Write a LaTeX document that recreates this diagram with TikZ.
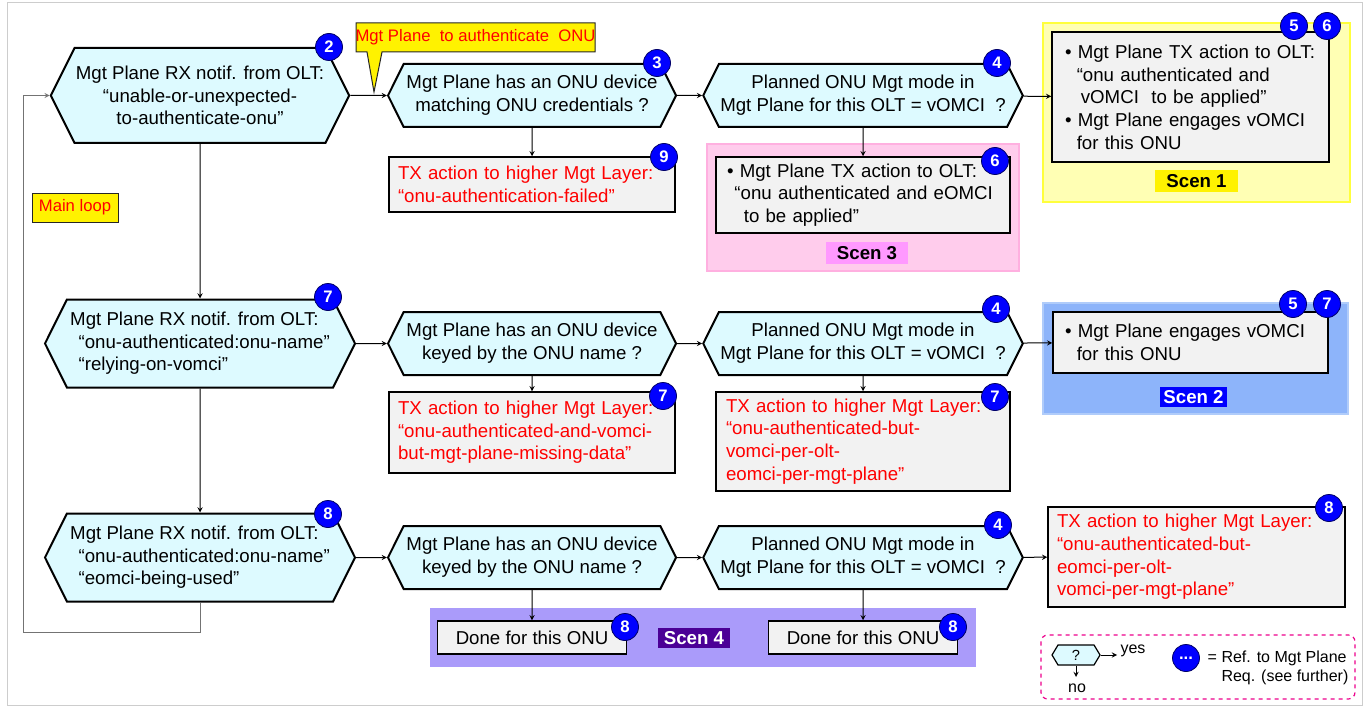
\documentclass[tikz,border=0pt]{standalone}
\usepackage{fontspec}
\setmainfont{Liberation Sans}
\usetikzlibrary{shapes.symbols}

\definecolor{hexfill}{RGB}{221,250,255}
\definecolor{boxfill}{RGB}{242,242,242}
\definecolor{txred}{RGB}{255,0,0}
\definecolor{refblue}{RGB}{0,0,255}
\definecolor{scenAbg}{RGB}{255,255,180}
\definecolor{scenAedge}{RGB}{255,255,60}
\definecolor{scenBbg}{RGB}{141,180,250}
\definecolor{scenBedge}{RGB}{176,204,250}
\definecolor{scenCbg}{RGB}{255,204,236}
\definecolor{scenCedge}{RGB}{255,176,224}
\definecolor{scenClbl}{RGB}{255,153,255}
\definecolor{scenDbg}{RGB}{170,155,250}
\definecolor{scenDlbl}{RGB}{75,0,150}
\definecolor{loopgray}{RGB}{115,115,115}
\definecolor{framegray}{RGB}{205,205,205}

\newcommand{\bulind}{\hspace*{0.63em}}

\begin{document}
\begin{tikzpicture}[x=0.75pt, y=-0.75pt, font=\fontsize{14}{17}\selectfont,
    hexa/.style={signal, signal to=east and west, signal pointer angle=127, draw, line width=1.5pt, fill=hexfill, inner sep=1pt, align=center},
    actbox/.style={draw, rectangle, line width=1.1pt, fill=boxfill, inner sep=0pt, align=left},
    refnum/.style={draw=black!60!refblue, circle, fill=refblue, line width=0.6pt, minimum size=20.25pt, inner sep=0pt, text=white, font=\bfseries\fontsize{12.5}{12.5}\selectfont},
    scenlbl/.style={rectangle, inner sep=0pt, font=\bfseries\fontsize{14}{14}\selectfont},
    flow/.style={->, >=stealth, line width=0.75pt},
    notefont/.style={font=\fontsize{12.5}{15}\selectfont}]
\useasboundingbox (0,0) rectangle (1366,706);
\draw[framegray, line width=0.75pt] (7.5,3) rectangle (1362,705.5);

% scenario areas
\filldraw[fill=scenAbg, draw=scenAedge, line width=1.1pt] (1043,23) rectangle (1350,202);
\filldraw[fill=scenCbg, draw=scenCedge, line width=1pt] (707,144) rectangle (1019,271);
\filldraw[fill=scenBbg, draw=scenBedge, line width=1pt] (1043,303) rectangle (1348,414);
\fill[scenDbg] (430,608) rectangle (976,667);

% row 1
\node[hexa, minimum width=222pt, minimum height=71.25pt] (A2) at (200,95.5) {Mgt Plane RX notif. from OLT:\\“unable-or-unexpected-\\to-authenticate-onu”};
\node[hexa, minimum width=216pt, minimum height=47.25pt] (B3) at (532,95.5) {Mgt Plane has an ONU device\\matching ONU credentials ?};
\node[hexa, minimum width=237pt, minimum height=47.25pt] (D4) at (863,95.5) {Planned ONU Mgt mode in\\Mgt Plane for this OLT = vOMCI\ \ ?};
\node[actbox, text=txred, minimum width=214.5pt, minimum height=41.25pt, text width=201pt] (C9) at (532,184.5) {TX action to higher Mgt Layer:\\“onu-authentication-failed”};
\node[actbox, minimum width=220.5pt, minimum height=57pt, text width=204pt] (E6) at (863,195) {\textbullet\ Mgt Plane TX action to OLT:\\\hspace*{0.4em}“onu authenticated and eOMCI\\\hspace*{0.9em}to be applied”};
\node[actbox, minimum width=207.75pt, minimum height=97.5pt, text width=188.25pt] (F56) at (1190.5,97) {\textbullet\ Mgt Plane TX action to OLT:\\\bulind“onu authenticated and\\\hspace*{0.85em}vOMCI\ \ to be applied”\\\textbullet\ Mgt Plane engages vOMCI\\\bulind for this ONU};
\node[scenlbl, fill=yellow, minimum width=62.25pt, minimum height=16.5pt] (scen1) at (1196.5,181) {Scen 1};
\node[scenlbl, fill=scenClbl, minimum width=61.5pt, minimum height=16.5pt] (scen3) at (867,253) {Scen 3};

% callout and loop label
\filldraw[fill=yellow, draw=black!85, line width=0.75pt] (356,23) -- (595,23) -- (595,52) -- (382,52) -- (374,92) -- (367,52) -- (356,52) -- cycle;
\node[notefont, text=txred] (authnote) at (475.5,37.5) {Mgt Plane\ \ to authenticate\ \ ONU};
\node[notefont, draw=black!85, line width=0.75pt, fill=yellow, text=txred, minimum width=64.5pt, minimum height=21.75pt, inner sep=0pt] (mainloop) at (75,207.5) {Main loop};

% row 2
\node[hexa, align=left, minimum width=232.5pt, minimum height=66pt] (A7) at (200,343.5) {Mgt Plane RX notif. from OLT:\\\hspace*{0.45em}“onu-authenticated:onu-name”\\\hspace*{0.45em}“relying-on-vomci”};
\node[hexa, minimum width=216pt, minimum height=47.25pt] (B7) at (532,343.5) {Mgt Plane has an ONU device\\keyed by the ONU name ?};
\node[hexa, minimum width=237pt, minimum height=47.25pt] (D7) at (863,343.5) {Planned ONU Mgt mode in\\Mgt Plane for this OLT = vOMCI\ \ ?};
\node[actbox, text=txred, minimum width=214.5pt, minimum height=60.75pt, text width=201pt] (C7) at (532,432.5) {TX action to higher Mgt Layer:\\“onu-authenticated-and-vomci-\\but-mgt-plane-missing-data”};
\node[actbox, text=txred, minimum width=220.5pt, minimum height=74.25pt, text width=205.5pt] (E7) at (863,441.5) {TX action to higher Mgt Layer:\\“onu-authenticated-but-\\vomci-per-olt-\\eomci-per-mgt-plane”};
\node[actbox, minimum width=206.25pt, minimum height=45.75pt, text width=188.25pt] (G57) at (1190.5,342.5) {\textbullet\ Mgt Plane engages vOMCI\\\bulind for this ONU};
\node[scenlbl, fill=refblue, text=white, minimum width=50.25pt, minimum height=15pt] (scen2) at (1193.5,397) {Scen 2};

% row 3
\node[hexa, align=left, minimum width=232.5pt, minimum height=66pt] (A8) at (200,557.5) {Mgt Plane RX notif. from OLT:\\\hspace*{0.45em}“onu-authenticated:onu-name”\\\hspace*{0.45em}“eomci-being-used”};
\node[hexa, minimum width=216pt, minimum height=47.25pt] (B8) at (532,557.5) {Mgt Plane has an ONU device\\keyed by the ONU name ?};
\node[hexa, minimum width=237pt, minimum height=47.25pt] (D8) at (863,557.5) {Planned ONU Mgt mode in\\Mgt Plane for this OLT = vOMCI\ \ ?};
\node[actbox, align=center, minimum width=141.75pt, minimum height=24.75pt] (doneB) at (532,637.5) {Done for this ONU};
\node[actbox, align=center, minimum width=141.75pt, minimum height=24.75pt] (doneD) at (863,637.5) {Done for this ONU};
\node[actbox, text=txred, minimum width=222.75pt, minimum height=75pt, text width=209.25pt] (H8) at (1196.5,557) {TX action to higher Mgt Layer:\\“onu-authenticated-but-\\eomci-per-olt-\\vomci-per-mgt-plane”};
\node[scenlbl, fill=scenDlbl, text=white, minimum width=54pt, minimum height=15pt] (scen4) at (694,638) {Scen 4};

% connectors
\draw[flow] (A2) -- (B3);
\draw[flow] (B3) -- (C9);
\draw[flow] (B3) -- (D4);
\draw[flow] (D4) -- (E6);
\draw[flow] (D4) -- (F56);
\draw[flow] (A2) -- (A7);
\draw[flow] (A7) -- (B7);
\draw[flow] (B7) -- (C7);
\draw[flow] (B7) -- (D7);
\draw[flow] (D7) -- (E7);
\draw[flow] (D7) -- (G57);
\draw[flow] (A7) -- (A8);
\draw[flow] (A8) -- (B8);
\draw[flow] (B8) -- (doneB);
\draw[flow] (B8) -- (D8);
\draw[flow] (D8) -- (doneD);
\draw[flow] (D8) -- (H8);
\coordinate (loopcorner) at (23,632);
\draw[flow, loopgray] (A8.south) |- (loopcorner) |- (A2.west);

% references to Mgt Plane requirements
\node[refnum] (refA2) at (329,47) {2};
\node[refnum] (refB3) at (657,63) {3};
\node[refnum] (refC9) at (664,157) {9};
\node[refnum] (refD4) at (997,63) {4};
\node[refnum] (refE6) at (995,161) {6};
\node[refnum] (refF5) at (1294,26) {5};
\node[refnum] (refF6) at (1327,26) {6};
\node[refnum] (refA7) at (328,297) {7};
\node[refnum] (refD7) at (996,309) {4};
\node[refnum] (refC7) at (663,396) {7};
\node[refnum] (refE7) at (995,397) {7};
\node[refnum] (refG5) at (1293,304) {5};
\node[refnum] (refG7) at (1327,304) {7};
\node[refnum] (refA8) at (328,514) {8};
\node[refnum] (refD8) at (998,525) {4};
\node[refnum] (refdoneB) at (625,627) {8};
\node[refnum] (refdoneD) at (953,627) {8};
\node[refnum] (refH8) at (1329,508) {8};

% legend
\draw[magenta, dashed, line width=0.9pt, rounded corners=5pt] (1041,635) rectangle (1355,699);
\node[hexa, signal pointer angle=118, line width=0.9pt, minimum width=36pt, minimum height=15pt, inner sep=0pt, font=\fontsize{11}{11}\selectfont] (keyq) at (1076,655) {?};
\coordinate (keyyes) at (1117,655);
\coordinate (keyno) at (1076,677);
\draw[flow] (keyq.east) -- (keyyes);
\draw[flow] (keyq.south) -- (keyno);
\node[font=\fontsize{12}{14}\selectfont] (keyyestxt) at (1133,651) {yes};
\node[font=\fontsize{12}{14}\selectfont] (keynotxt) at (1077,688) {no};
\node[refnum] (keyref) at (1186,658) {...};
\node[anchor=west, align=left, font=\fontsize{12}{14.25}\selectfont] (keytxt) at (1203,667.5) {= Ref. to Mgt Plane\\\phantom{= }Req. (see further)};
\end{tikzpicture}
\end{document}
